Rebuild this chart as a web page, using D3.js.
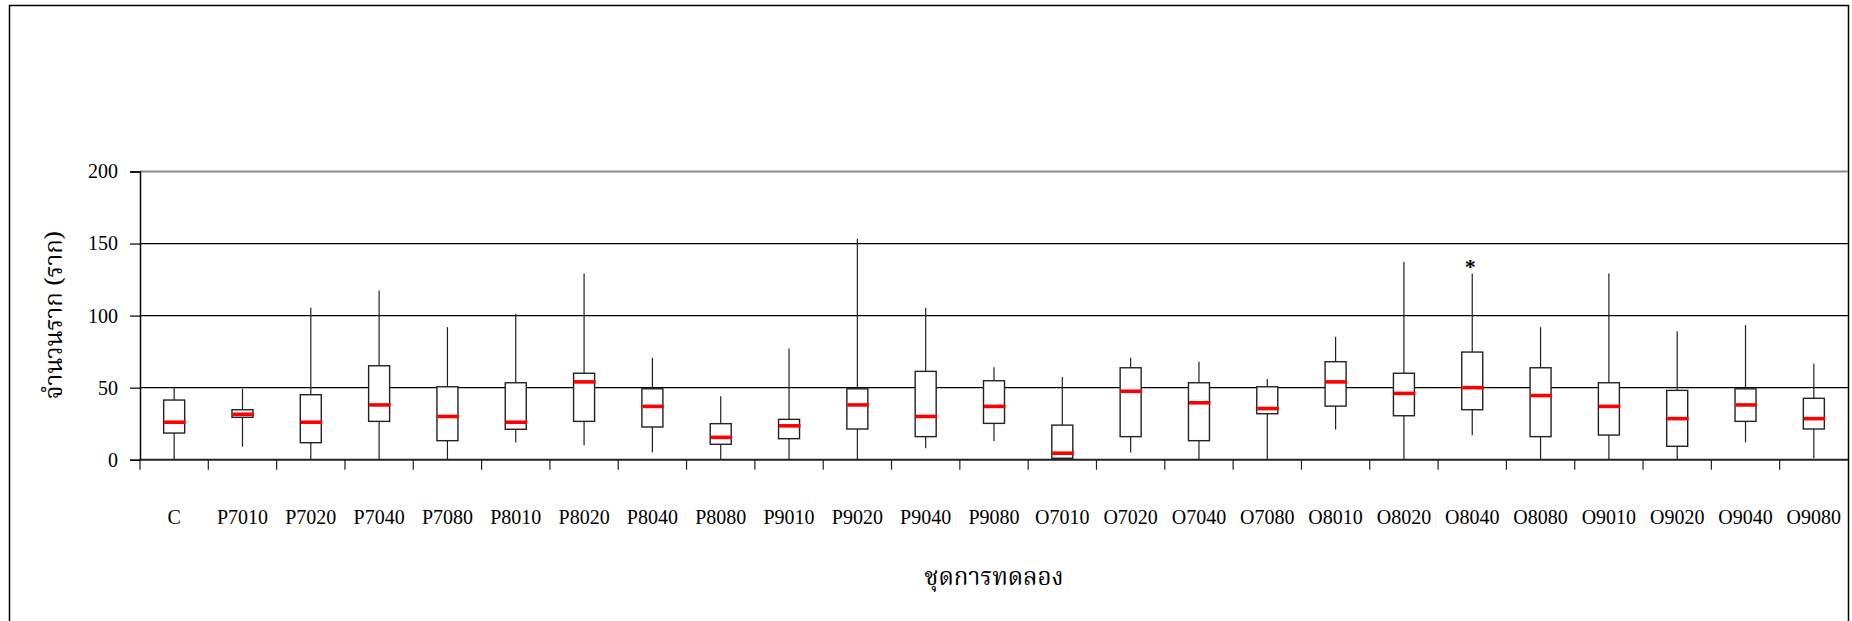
<!DOCTYPE html>
<html>
<head>
<meta charset="utf-8">
<script src="https://cdn.jsdelivr.net/npm/d3@7"></script>
<style>
  html, body { margin: 0; padding: 0; background: #fff; }
  svg { display: block; }
  .tick text { font-family: "Liberation Serif", "Times New Roman", serif; font-size: 20px; fill: #000; }
  .thai { font-family: "Noto Serif Thai", "Noto Sans Thai", "Garuda", "Loma", "Norasi", "Tlwg Typo", "Noto Sans", serif; fill: #000; }
</style>
</head>
<body>
<svg id="chart" width="1852" height="621"></svg>
<script>
// ---- data ----
const categories = ["C","P7010","P7020","P7040","P7080","P8010","P8020","P8040","P8080","P9010","P9020","P9040","P9080","O7010","O7020","O7040","O7080","O8010","O8020","O8040","O8080","O9010","O9020","O9040","O9080"];
const whiskerLow  = [0, 9, 0, 0, 0, 12, 10, 5, 0, 0, 0, 8, 13, 0, 5, 0, 0, 21, 0, 17, 0, 0, 0, 12, 1];
const q1          = [18.5, 29.4, 11.8, 26.6, 13.2, 21.1, 26.6, 22.7, 10.7, 14.6, 21.3, 16, 25.2, 1, 16, 13.2, 31.9, 37.2, 30.5, 34.7, 16, 17.1, 9.3, 26.6, 21.3];
const medians     = [26, 31.5, 26, 38, 30, 26, 54, 37, 15.5, 23.5, 38, 30, 37, 4.5, 47.5, 39.5, 35.5, 54, 46, 50, 44.5, 37, 28.5, 38, 28.5];
const q3          = [41.4, 34.7, 45.1, 65.2, 50.6, 53.4, 60, 49.2, 25, 28, 49.2, 61.3, 54.8, 24, 63.8, 53.4, 50.6, 68, 60, 74.7, 63.8, 53.4, 48.1, 49.2, 42.6];
const whiskerHigh = [50.6, 49.2, 105.4, 117.5, 92, 101.3, 129.3, 70.7, 44, 77.2, 153.3, 105.4, 64.1, 57.4, 70.7, 68, 56, 85.3, 137.3, 129.3, 92, 129.3, 89.2, 93.4, 66.8];
const outlierCats   = ["O8040"];
const outlierValues = [135];
const yTicks = [0, 50, 100, 150, 200];
const yTitle = "จำนวนราก (ราก)";
const xTitle = "ชุดการทดลอง";

(function () {
// ---- layout ----
const svg = d3.select("#chart");
const pLeft = 140, pRight = 1848, pTop = 171.5, pBottom = 459.7;

const x = d3.scaleBand().domain(categories).range([pLeft, pRight]).padding(0);
const y = d3.scaleLinear().domain([0, 200]).range([pBottom, pTop]);

// outer frame
svg.append("rect")
  .attr("x", 9.5).attr("y", 5.5)
  .attr("width", 1848.5 - 9.5).attr("height", 700)
  .attr("fill", "none").attr("stroke", "#000").attr("stroke-width", 1.5);

// gridlines
svg.append("g").selectAll("line")
  .data(yTicks.filter(t => t > 0))
  .join("line")
  .attr("x1", pLeft).attr("x2", pRight)
  .attr("y1", d => y(d)).attr("y2", d => y(d))
  .attr("stroke", d => d === 200 ? "#8a8a8a" : "#000")
  .attr("stroke-width", d => d === 200 ? 2 : 1.2);

// y axis
const yAxis = svg.append("g")
  .attr("transform", `translate(${pLeft},0)`)
  .call(d3.axisLeft(y).tickValues(yTicks).tickSize(10).tickPadding(12).tickFormat(d3.format("d")));
yAxis.select(".domain").attr("stroke", "#000").attr("stroke-width", 1.5);
yAxis.selectAll(".tick line").attr("stroke", "#000").attr("stroke-width", 1.2);

// x axis: ticks at band boundaries
const xAxisG = svg.append("g");
xAxisG.append("line")
  .attr("x1", pLeft).attr("x2", pRight)
  .attr("y1", y(0)).attr("y2", y(0))
  .attr("stroke", "#222").attr("stroke-width", 2);
xAxisG.selectAll("line.xt")
  .data(categories)
  .join("line")
  .attr("class", "xt")
  .attr("x1", d => x(d)).attr("x2", d => x(d))
  .attr("y1", y(0)).attr("y2", y(0) + 10)
  .attr("stroke", "#222").attr("stroke-width", 1.2);
xAxisG.selectAll("text.xl")
  .data(categories)
  .join("text")
  .attr("class", "xl")
  .attr("x", d => x(d) + x.bandwidth() / 2)
  .attr("y", 517)
  .attr("text-anchor", "middle")
  .attr("dominant-baseline", "central")
  .style("font-family", '"Liberation Serif", "Times New Roman", serif')
  .style("font-size", "20px")
  .text(d => d);

// boxes
const data = categories.map((c, i) => ({
  c, lo: whiskerLow[i], q1: q1[i], med: medians[i], q3: q3[i], hi: whiskerHigh[i]
}));
const boxW = 21;
const g = svg.append("g");
const cx = d => x(d.c) + x.bandwidth() / 2;

g.selectAll("line.wlo").data(data).join("line")
  .attr("class", "wlo")
  .attr("x1", cx).attr("x2", cx)
  .attr("y1", d => y(d.q1)).attr("y2", d => y(d.lo))
  .attr("stroke", "#222").attr("stroke-width", 1.2);
g.selectAll("line.whi").data(data).join("line")
  .attr("class", "whi")
  .attr("x1", cx).attr("x2", cx)
  .attr("y1", d => y(d.q3)).attr("y2", d => y(d.hi))
  .attr("stroke", "#222").attr("stroke-width", 1.2);
g.selectAll("rect.box").data(data).join("rect")
  .attr("class", "box")
  .attr("x", d => cx(d) - boxW / 2)
  .attr("y", d => y(d.q3))
  .attr("width", boxW)
  .attr("height", d => y(d.q1) - y(d.q3))
  .attr("fill", "#fff")
  .attr("stroke", "#222").attr("stroke-width", 1.4);
g.selectAll("line.med").data(data).join("line")
  .attr("class", "med")
  .attr("x1", d => cx(d) - boxW / 2 + 0.5).attr("x2", d => cx(d) + boxW / 2 + 1)
  .attr("y1", d => y(d.med)).attr("y2", d => y(d.med))
  .attr("stroke", "#ff0000").attr("stroke-width", 3.6);

// outliers
g.selectAll("text.out").data(outlierCats.map((c, i) => ({ c, v: outlierValues[i] }))).join("text")
  .attr("class", "out")
  .attr("x", d => x(d.c) + x.bandwidth() / 2 - 2)
  .attr("y", d => y(d.v) + 9)
  .attr("text-anchor", "middle")
  .style("font-family", '"Liberation Serif", "Times New Roman", serif')
  .style("font-size", "22px")
  .style("font-weight", "bold")
  .text("*");

// axis titles
svg.append("text")
  .attr("class", "thai")
  .attr("transform", "translate(55,315) rotate(-90)")
  .attr("text-anchor", "middle")
  .attr("dominant-baseline", "central")
  .style("font-size", "24px")
  .text(yTitle);
svg.append("text")
  .attr("class", "thai")
  .attr("x", (pLeft + pRight) / 2)
  .attr("y", 578)
  .attr("text-anchor", "middle")
  .attr("dominant-baseline", "central")
  .style("font-size", "24px")
  .text(xTitle);
})();
</script>
</body>
</html>
